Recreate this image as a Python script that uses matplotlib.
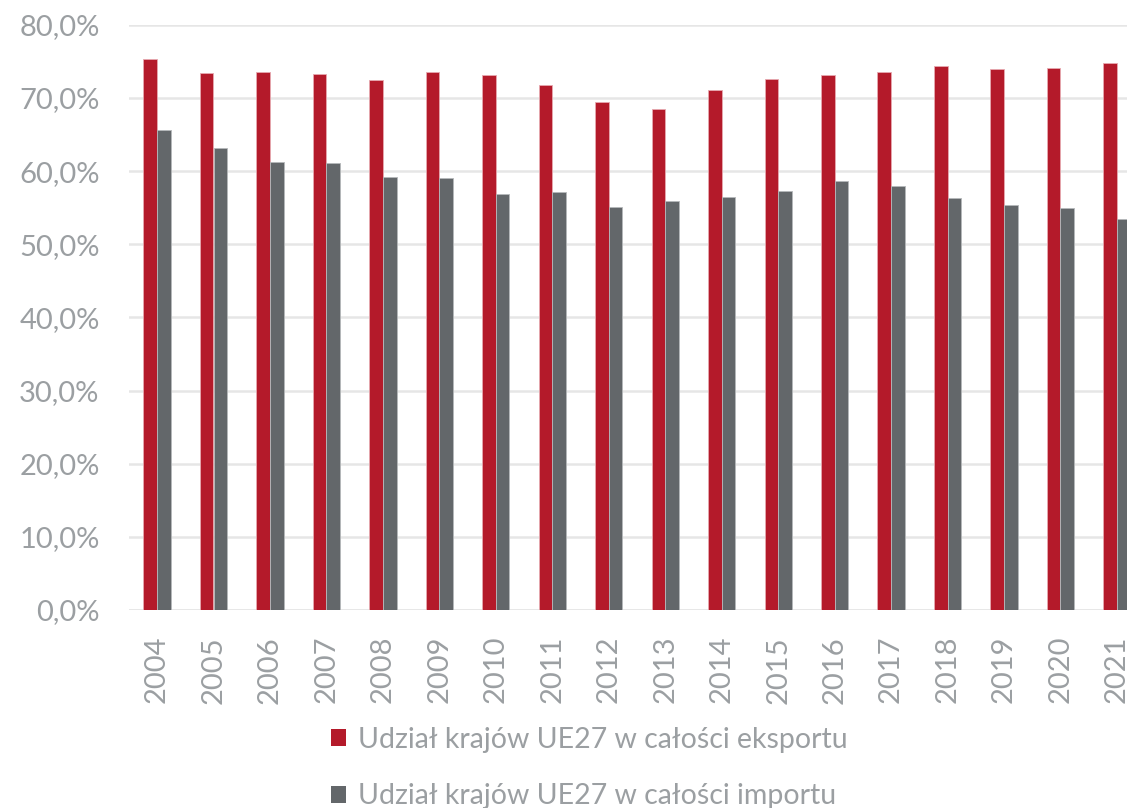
import matplotlib
matplotlib.use("Agg")
import matplotlib.pyplot as plt
from matplotlib.patches import Patch
import numpy as np

years = ["2004", "2005", "2006", "2007", "2008", "2009", "2010", "2011", "2012",
         "2013", "2014", "2015", "2016", "2017", "2018", "2019", "2020", "2021"]
export_share = [75.3, 73.4, 73.6, 73.3, 72.4, 73.6, 73.1, 71.8, 69.5,
                68.5, 71.1, 72.6, 73.2, 73.6, 74.4, 74.0, 74.1, 74.8]
import_share = [65.6, 63.2, 61.2, 61.1, 59.2, 59.0, 56.9, 57.1, 55.1,
                55.9, 56.5, 57.3, 58.7, 58.0, 56.3, 55.3, 55.0, 53.4]
label_export = "Udział krajów UE27 w całości eksportu"
label_import = "Udział krajów UE27 w całości importu"
yticks = [0, 10, 20, 30, 40, 50, 60, 70, 80]

RED = "#B41A2A"
GREY = "#63676A"
TXT = "#9B9FA2"
GRID = "#E6E6E6"

plt.rcParams['font.family'] = ['Lato', 'DejaVu Sans']

W, H = 1127, 808
fig = plt.figure(figsize=(W / 100, H / 100), dpi=100)
ax = fig.add_axes([128.8 / W, 198 / H, 1016.4 / W, 585.2 / H])

x = np.arange(len(years))
bw = 0.241
ax.bar(x - bw / 2, export_share, width=bw, color=RED, edgecolor="#E7A9B0", linewidth=0.6, zorder=3)
ax.bar(x + bw / 2, import_share, width=bw, color=GREY, edgecolor="#B5B8BA", linewidth=0.6, zorder=3)

ax.set_xlim(-0.5, len(years) - 0.5)
ax.set_ylim(0, 80)
ax.set_yticks(yticks)
ax.set_yticklabels([f"{v:.1f}%".replace(".", ",") for v in yticks])
ax.set_xticks(x)
ax.set_xticklabels(years, rotation=90)
for s in ax.spines.values():
    s.set_visible(False)
ax.yaxis.grid(True, color=GRID, linewidth=1.8, zorder=0)
ax.set_axisbelow(True)
ax.tick_params(axis="both", length=0, colors=TXT, labelsize=21)
ax.tick_params(axis="y", pad=21)
ax.tick_params(axis="x", pad=18.7)
ax.axhline(0, color=GRID, linewidth=1.8, zorder=1)

handles = [Patch(facecolor=RED, label=label_export), Patch(facecolor=GREY, label=label_import)]
leg = fig.legend(handles=handles, loc="center left", bbox_to_anchor=(331 / W, 1 - 768 / H),
                 frameon=False, fontsize=20.5, labelcolor=TXT, handlelength=0.53, handleheight=0.53,
                 handletextpad=0.42, labelspacing=1.07, borderpad=0, borderaxespad=0)

fig.savefig("out.png", dpi=100)
